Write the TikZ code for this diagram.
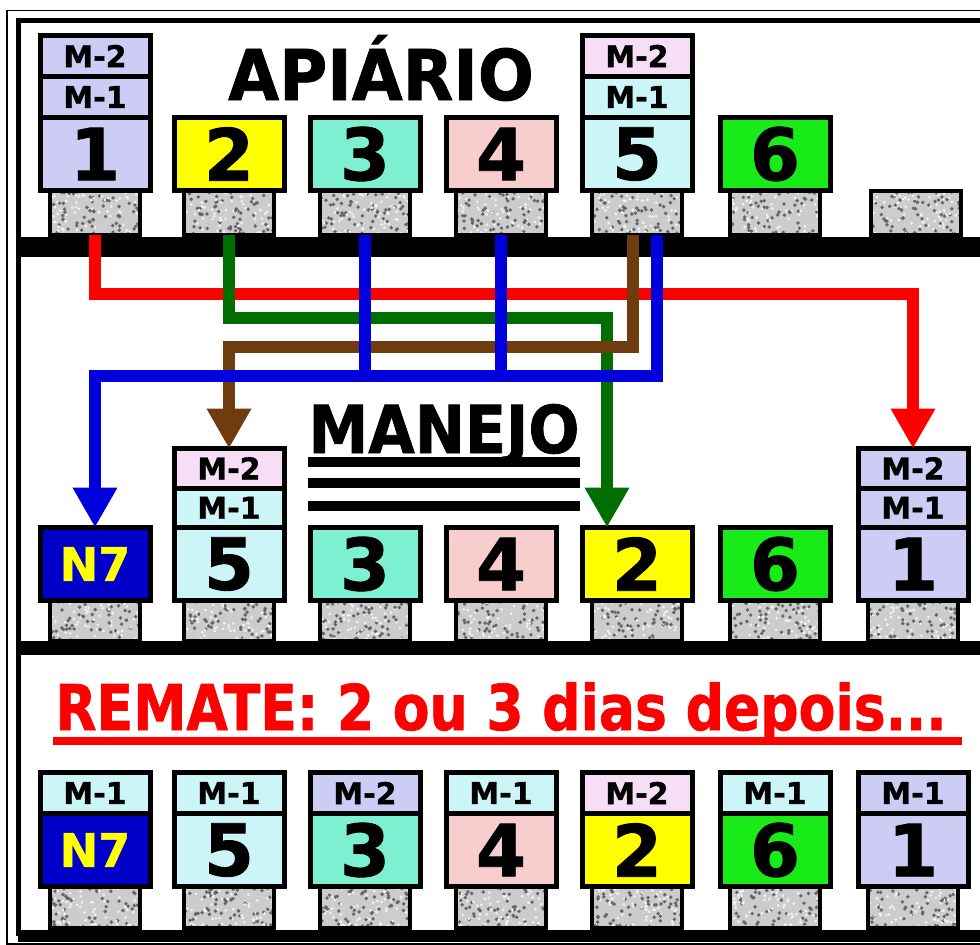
\documentclass[tikz,border=0pt]{standalone}
\usepackage{fontspec}
\setmainfont{DejaVu Sans}[BoldFeatures={FakeBold=1.2}]
\usepackage{graphicx}
\usetikzlibrary{arrows.meta,calc,positioning}

\definecolor{clav}{RGB}{204,204,245}
\definecolor{cyel}{RGB}{255,255,0}
\definecolor{caqua}{RGB}{125,240,210}
\definecolor{cpink}{RGB}{248,205,205}
\definecolor{ccyan}{RGB}{204,245,248}
\definecolor{cgreen}{RGB}{25,235,25}
\definecolor{crose}{RGB}{246,222,246}
\definecolor{cnavy}{RGB}{0,0,200}
\definecolor{fred}{RGB}{255,0,0}
\definecolor{fgreen}{RGB}{0,110,0}
\definecolor{fbrown}{RGB}{110,60,15}
\definecolor{fblue}{RGB}{0,0,220}

\newcommand{\numfont}{\fontsize{72}{72}\selectfont\bfseries}
\newcommand{\melfont}{\fontsize{30}{30}\selectfont\bfseries}
\newcommand{\nsfont}{\fontsize{46}{46}\selectfont\bfseries}

\pgfmathsetseed{7}
\tikzset{
	hive/.style={draw, line width=5pt, minimum width=110pt, minimum height=73pt,
		inner sep=0pt, outer sep=0pt, font=\numfont},
	melgueira/.style={draw, line width=5pt, minimum width=110pt, minimum height=41pt,
		inner sep=0pt, outer sep=0pt, font=\melfont},
	stand/.style={draw, line width=4pt, fill=gray!40,
		minimum width=90pt, inner sep=0pt, outer sep=0pt,
		path picture={
			\foreach \k in {1,...,70}{
				\fill[black!60] ($(path picture bounding box.north west)+(rnd*96,rnd*46)$) circle (1.9pt);
				\fill[white!90!gray] ($(path picture bounding box.north west)+(rnd*96,rnd*46)$) circle (1.5pt);
			}
		}},
	shelf/.style={fill=black},
	flow/.style={line width=12.5pt, -{Triangle[width=42pt,length=40pt]}},
	feed/.style={line width=12.5pt}
}

\begin{document}
\begin{tikzpicture}[x=1pt, y=-1pt]
		\useasboundingbox (0,0) rectangle (980,945);
		\clip (0,0) rectangle (980,945);
		% molduras
		\draw[line width=1.5pt] (7,10.5) rectangle (995,944);
		\draw[line width=5pt] (995,20.5) -- (18,20.5) -- (18,936);
		% prateleiras
		\fill[shelf] (18,237) rectangle (995,257);
		\fill[shelf] (18,641) rectangle (995,655);
		\fill[shelf] (18,930) rectangle (995,942);
		% apiario
		\foreach \n/\x/\c in {1/95/clav,2/229/cyel,3/365/caqua,4/501/cpink,5/637/ccyan,6/775/cgreen}{
			\node[hive, fill=\c] (a\n) at (\x,154) {\n};
			\node[stand, minimum height=44.5pt, below=0pt of a\n] (as\n) {};
		}
		\node[melgueira, fill=clav, above=0pt of a1] (a1m1) {M-1};
		\node[melgueira, fill=clav, above=0pt of a1m1] (a1m2) {M-2};
		\node[melgueira, fill=ccyan, above=0pt of a5] (a5m1) {M-1};
		\node[melgueira, fill=crose, above=0pt of a5m1] (a5m2) {M-2};
		\node[stand, minimum height=44.5pt] (as7) at (916,212.75) {};
		\node[anchor=base, font=\fontsize{70}{70}\selectfont\bfseries] (tapi) at (381,100)
			{\scalebox{0.94}[1]{APIÁRIO}};
		% manejo
		\node[hive, fill=cnavy, text=cyel, font=\nsfont] (mN) at (95,564) {N7};
		\node[stand, minimum height=40.5pt, below=0pt of mN] (msN) {};
		\foreach \n/\x/\c in {5/229/ccyan,3/365/caqua,4/501/cpink,2/637/cyel,6/775/cgreen,1/913/clav}{
			\node[hive, fill=\c] (m\n) at (\x,564) {\n};
			\node[stand, minimum height=40.5pt, below=0pt of m\n] (ms\n) {};
		}
		\node[melgueira, fill=ccyan, minimum height=39.5pt, above=0pt of m5] (m5m1) {M-1};
		\node[melgueira, fill=crose, minimum height=39.5pt, above=0pt of m5m1] (m5m2) {M-2};
		\node[melgueira, fill=clav, minimum height=39.5pt, above=0pt of m1] (m1m1) {M-1};
		\node[melgueira, fill=clav, minimum height=39.5pt, above=0pt of m1m1] (m1m2) {M-2};
		\node[anchor=base, font=\fontsize{66}{66}\selectfont\bfseries] (tman) at (444,453)
			{\scalebox{0.91}[1]{MANEJO}};
		\foreach \y in {462,483,506}
			\draw[line width=10pt] (308,\y) -- (580,\y);
		% trocas
		\draw[flow, fred] (as1.south) -- (as1.south |- 0,294) -| (m1m2.north);
		\draw[flow, fgreen] (as2.south) -- (as2.south |- 0,318) -| ($(m2.north)+(-30,0)$);
		\draw[flow, fbrown] ($(as5.south)+(-4,0)$) |- (m5m2.north |- 0,347) -- (m5m2.north);
		\draw[flow, fblue] ($(as5.south)+(20,0)$) |- (mN.north |- 0,376) -- (mN.north);
		\draw[feed, fblue] (as3.south) -- (as3.south |- 0,376);
		\draw[feed, fblue] (as4.south) -- (as4.south |- 0,376);
		% remate
		\node[anchor=base, text=fred, font=\fontsize{63}{63}\selectfont\bfseries] (trem) at (501,730)
			{\scalebox{0.85}[1]{REMATE: 2 ou 3 dias depois...}};
		\draw[fred, line width=8pt] (53,741) -- (962,741);
		\node[hive, fill=cnavy, text=cyel, font=\nsfont] (rN) at (95,850) {N7};
		\node[stand, minimum height=41.5pt, below=0pt of rN] (rsN) {};
		\node[melgueira, fill=ccyan, above=0pt of rN] (rNm) {M-1};
		\foreach \n/\x/\c/\m/\mc in {5/229/ccyan/M-1/ccyan,3/365/caqua/M-2/clav,4/501/cpink/M-1/ccyan,
				2/637/cyel/M-2/crose,6/775/cgreen/M-1/ccyan,1/913/clav/M-1/clav}{
			\node[hive, fill=\c] (r\n) at (\x,850) {\n};
			\node[stand, minimum height=41.5pt, below=0pt of r\n] (rs\n) {};
			\node[melgueira, fill=\mc, above=0pt of r\n] (r\n m) {\m};
		}
	\end{tikzpicture}
\end{document}
